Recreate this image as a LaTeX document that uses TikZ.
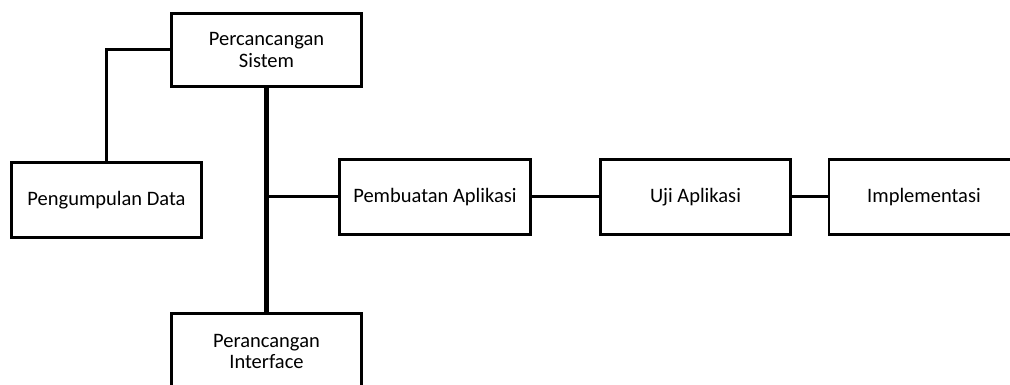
\documentclass[tikz,border=0pt]{standalone}
\usepackage{fontspec}
\setmainfont{Carlito}
\begin{document}
\begin{tikzpicture}[x=1pt,y=-1pt,
  box/.style={draw, line width=2.5pt, minimum width=190pt, minimum height=75pt,
    inner sep=0pt, align=center, font=\fontsize{20.5}{21}\selectfont},
  link/.style={line width=3pt},
  trunk/.style={line width=4.5pt}]
\fill[white] (0,0) rectangle (1010,385);
\useasboundingbox (0,0) rectangle (1010,385);
\clip (0,0) rectangle (1010,385);
\node[box, minimum height=73pt] (S) at (266.5,50) {Percancangan\\Sistem};
\node[box] (D) at (106.5,200) {Pengumpulan Data};
\node[box] (I) at (266.5,351) {Perancangan\\Interface};
\node[box, minimum width=191pt] (P) at (435,197) {Pembuatan Aplikasi};
\node[box] (U) at (695.5,197) {Uji Aplikasi};
\node[box] (M) at (924,197) {Implementasi};
\coordinate (J) at (S.south |- P.west);
\draw[trunk] (S.south) -- (I.north);
\draw[link] (J) -- (P.west);
\draw[link] (S.west) -| (D.north);
\draw[link] (P.east) -- (U.west);
\draw[link] (U.east) -- (M.west);
\end{tikzpicture}
\end{document}
